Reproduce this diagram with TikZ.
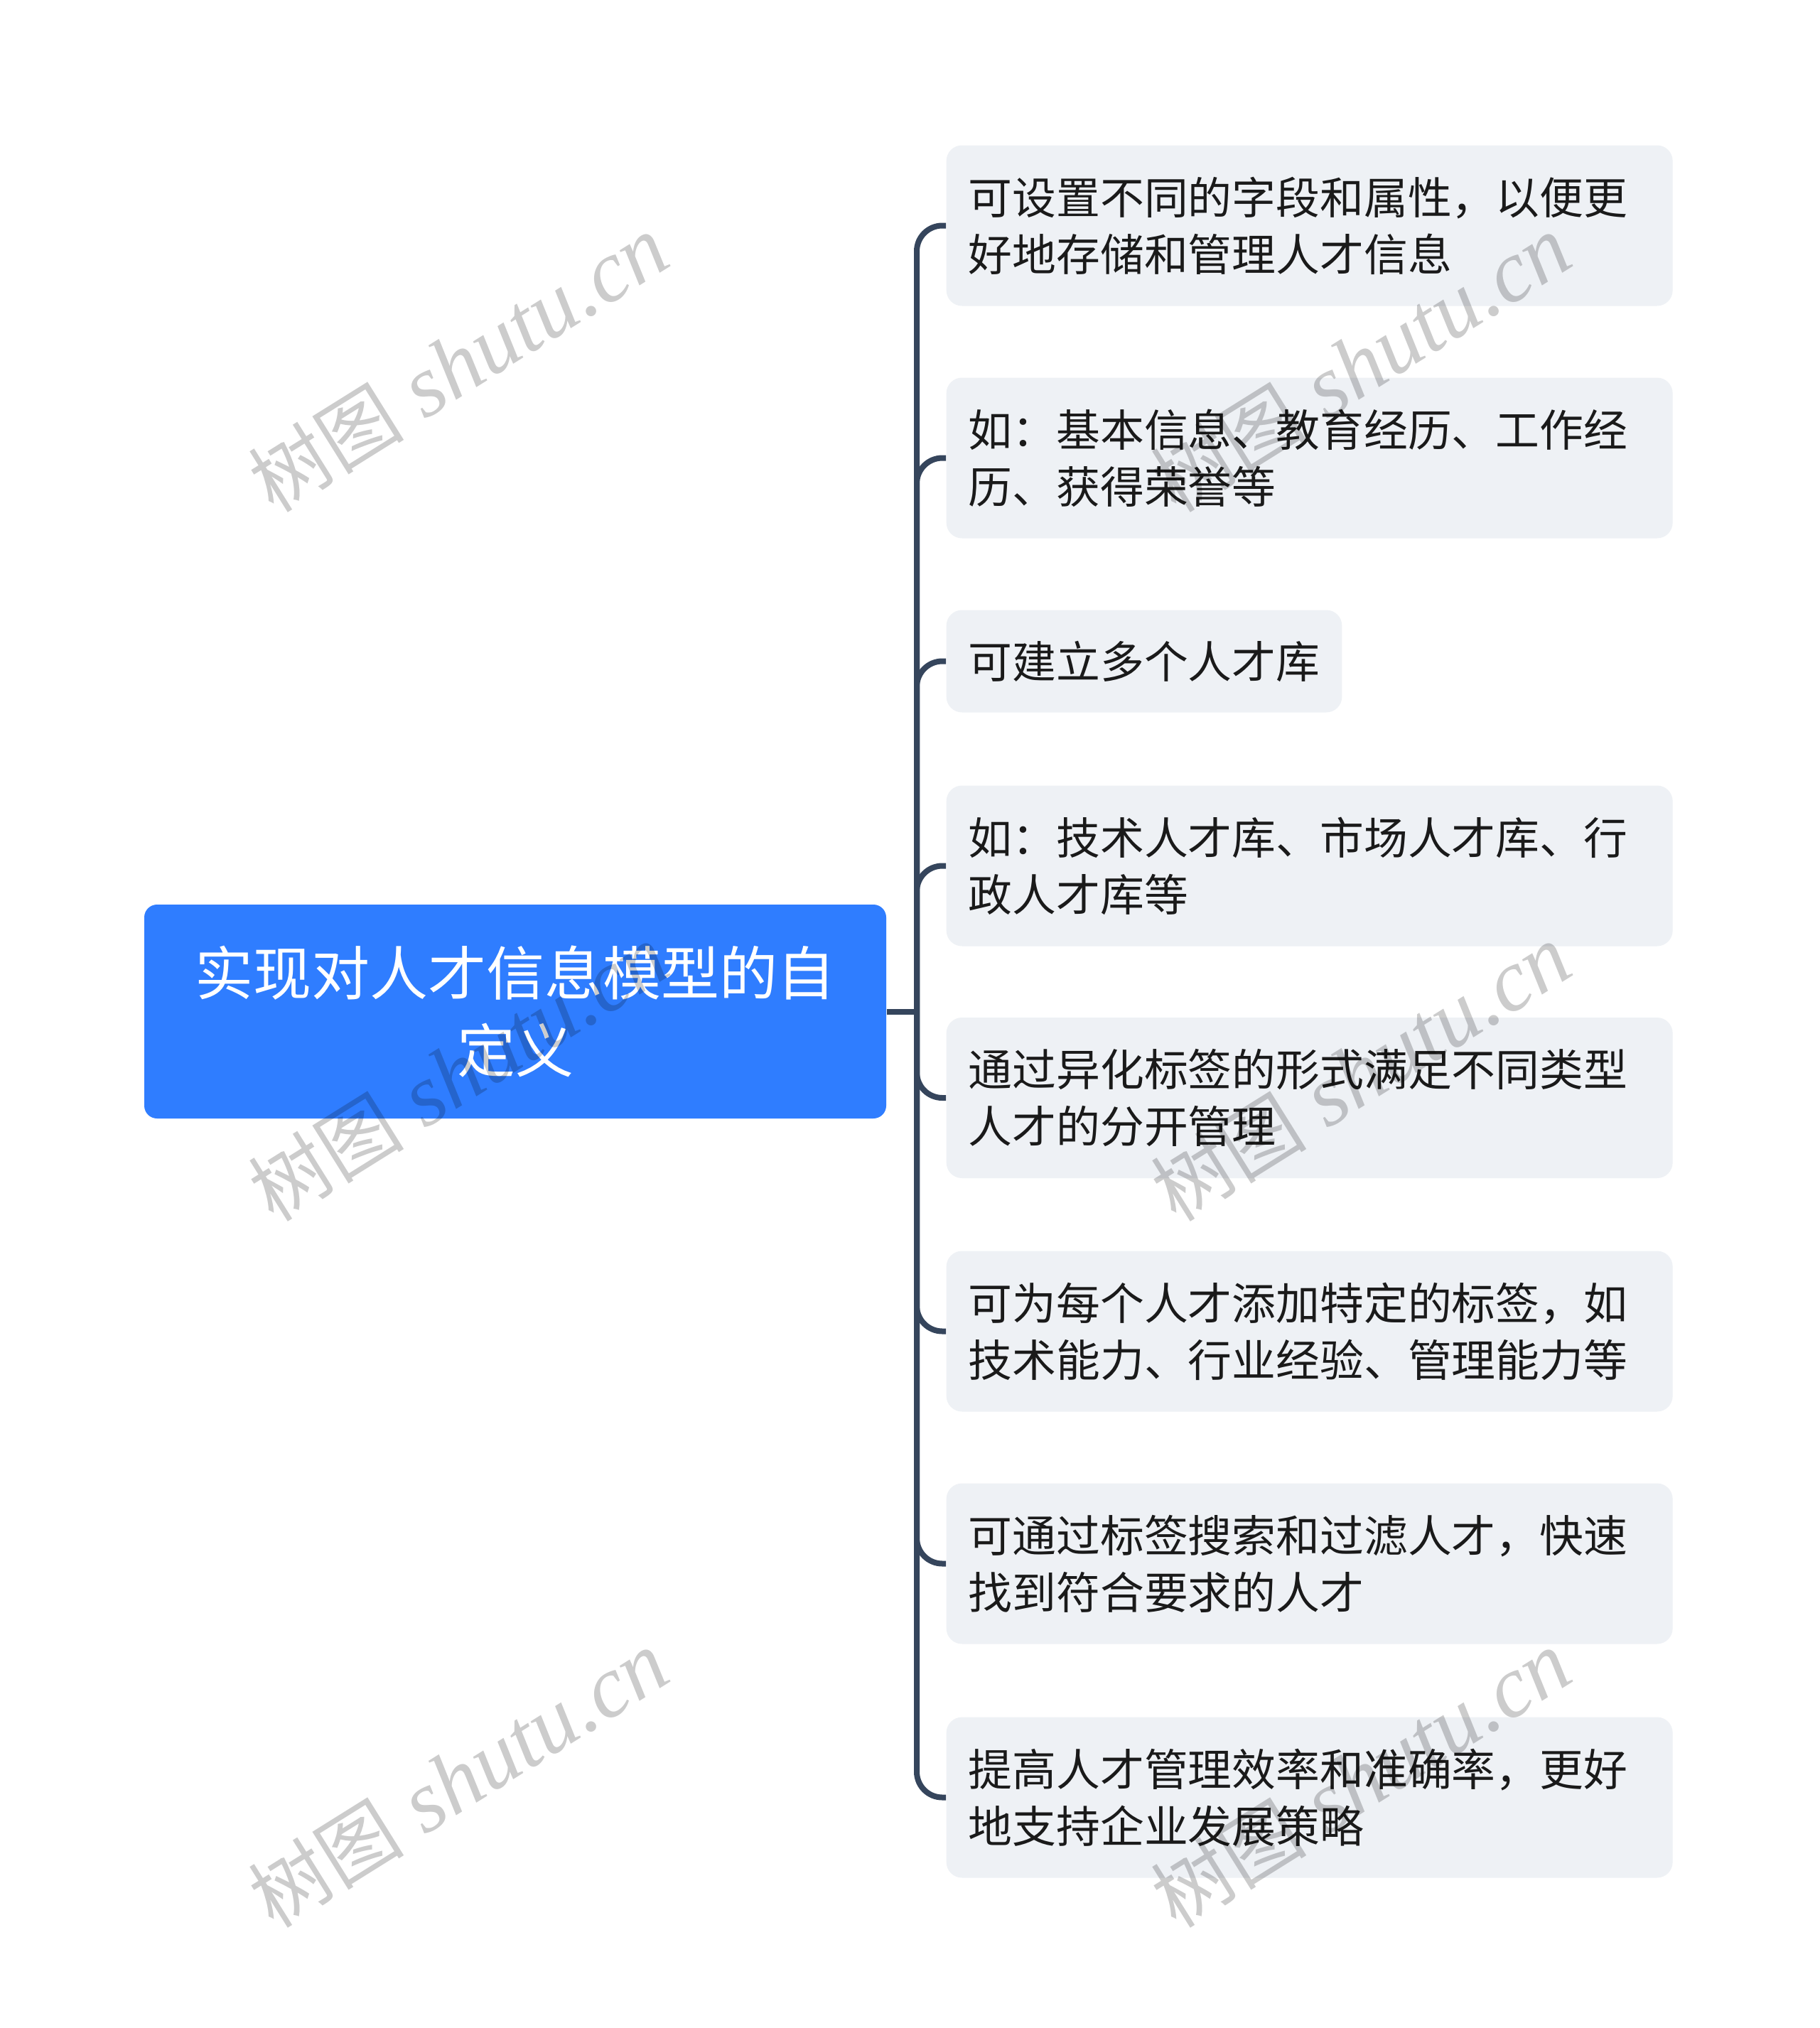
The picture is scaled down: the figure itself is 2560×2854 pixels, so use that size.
\documentclass[tikz,border=0pt]{standalone}
\usepackage{fontspec}
\newfontfamily\cjk{Noto Sans CJK SC}
\newfontfamily\wmserif{Liberation Serif}
\definecolor{rootblue}{HTML}{2F7DFF}
\definecolor{childbg}{HTML}{EEF1F5}
\definecolor{linec}{HTML}{35455C}
\definecolor{txt}{HTML}{1A1A1A}
\begin{document}
\begin{tikzpicture}[x=0.3pt,y=-0.3pt,
  rootbox/.style={draw=none,fill=rootblue,rounded corners=5.4pt,minimum width=313.2pt,minimum height=90.3pt,
    text=white,align=center,font=\cjk\fontsize{24.6pt}{32.7pt}\selectfont,inner sep=0pt},
  childbox/.style={draw=none,fill=childbg,rounded corners=6.6pt,anchor=west,minimum height=67.8pt,
    inner xsep=9.3pt,inner ysep=0pt,text=txt,align=left,text width=288pt,
    font=\cjk\fontsize{18.55pt}{24pt}\selectfont},
  conn/.style={draw=linec,line width=2.4pt,rounded corners=10.8pt},
  wmark/.style={text=black,opacity=0.2,rotate=32,inner sep=0pt}]
\useasboundingbox (0,0) rectangle (2560,2854);
\fill[white] (0,0) rectangle (2560,2854);

\node[rootbox] (root) at (725,1423.5) {实现对人才信息模型的自\\定义};
\coordinate (trunk) at (1290,1423.5);

\node[childbox] (c1) at (1331,317.5) {可设置不同的字段和属性，以便更\\好地存储和管理人才信息};
\node[childbox] (c2) at (1331,644.5) {如：基本信息、教育经历、工作经\\历、获得荣誉等};
\node[childbox,text width={},minimum height=43.2pt] (c3) at (1331,930.5) {可建立多个人才库};
\node[childbox] (c4) at (1331,1218.5) {如：技术人才库、市场人才库、行\\政人才库等};
\node[childbox] (c5) at (1331,1545) {通过异化标签的形式满足不同类型\\人才的分开管理};
\node[childbox] (c6) at (1331,1873.5) {可为每个人才添加特定的标签，如\\技术能力、行业经验、管理能力等};
\node[childbox] (c7) at (1331,2200.5) {可通过标签搜索和过滤人才，快速\\找到符合要求的人才};
\node[childbox] (c8) at (1331,2529.5) {提高人才管理效率和准确率，更好\\地支持企业发展策略};

\draw[conn] (root.east) -- (trunk);
\foreach \c in {c1,c2,c3,c4,c5,c6,c7,c8}
  \draw[conn] (trunk) |- (\c.west);

\foreach \i/\x/\y in {1/645/512,2/1915/512,3/645/1510,4/1915/1510,5/645/2504,6/1915/2504}
  \node[wmark] (wm\i) at (\x,\y) {{\cjk\fontsize{33pt}{40pt}\selectfont 树图}\hspace{9pt}{\wmserif\itshape\fontsize{37pt}{40pt}\selectfont shutu.cn}};
\end{tikzpicture}
\end{document}
